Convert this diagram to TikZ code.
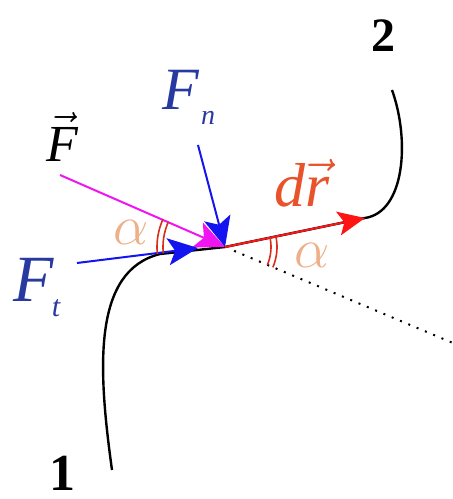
\RequirePackage{fix-cm}
\documentclass[tikz,border=0pt]{standalone}
\usepackage{fontspec}
\setmainfont{Liberation Serif}
\usetikzlibrary{arrows.meta,calc}

\definecolor{lblblue}{RGB}{40,58,160}
\definecolor{arrblue}{RGB}{20,20,240}
\definecolor{arrmag}{RGB}{240,20,240}
\definecolor{arrred}{RGB}{255,20,20}
\definecolor{drred}{RGB}{232,83,43}
\definecolor{alphaor}{RGB}{237,176,136}
\definecolor{arcred}{RGB}{214,48,28}

\begin{document}
\begin{tikzpicture}[x=1pt,y=1pt,
	force/.style={line width=2pt,-{Stealth[length=30pt,width=27pt,inset=7pt]}},
	anglearc/.style={arcred,line width=1.6pt},
	lbl/.style={inner sep=0pt,anchor=center}]
	\useasboundingbox (0,0) rectangle (453,499);
	
	% contact point and ends
	\coordinate (P) at (225,252);
	\coordinate (Ft0) at (77,236);
	\coordinate (Ft1) at (198,251);
	\coordinate (F0) at (60,324);
	\coordinate (Fn0) at (198,354);
	\coordinate (dr1) at (365,281);
	\coordinate (far) at (453,156);
	
	% trajectory 1 -> 2
	\draw[line width=2.4pt] (112,29) .. controls (98,130) and (92,228) .. (160,245) -- (P) -- (dr1) .. controls (405,287) and (410,359) .. (392,409);
	
	% continuation of F
	\draw[line width=2pt,dash pattern=on 2pt off 7pt] ($(P)!0.04!(far)$) -- (far);
	
	% forces
	\draw[force,arrmag] (F0) -- (P);
	\draw[force,arrblue] (Ft0) -- (Ft1);
	\draw[force,arrblue] (Fn0) -- (P);
	\draw[force,arrred,-{Stealth[length=27pt,width=24pt,inset=6pt]}] (P) -- (dr1);
	
	% angles
	\draw[anglearc] ([shift={(156:62)}]P) arc (156:186:62);
	\draw[anglearc] ([shift={(156:68)}]P) arc (156:186:68);
	\draw[anglearc] ([shift={(-23:46)}]P) arc (-23:11:46);
	\draw[anglearc] ([shift={(-23:52)}]P) arc (-23:11:52);
	
	% labels
	\node[lbl,font=\fontsize{52}{52}\selectfont] (lF) at (62,362) {$\vec{\mbox{\itshape F}}$};
	\node[lbl,font=\fontsize{60}{60}\selectfont\itshape,lblblue] (lFn) at (181,409) {F};
	\node[lbl,font=\fontsize{28}{28}\selectfont\itshape,lblblue] (lFnsub) at (208,381) {n};
	\node[lbl,font=\fontsize{66}{66}\selectfont\itshape,lblblue] (lFt) at (34,219) {F};
	\node[lbl,font=\fontsize{30}{30}\selectfont\itshape,lblblue] (lFtsub) at (56,191) {t};
	\node[lbl,font=\fontsize{62}{62}\selectfont,drred] (ldr) at (302,316) {\mbox{\itshape d}$\vec{\mbox{\itshape r}}$};
	\node[lbl,font=\fontsize{56}{56}\selectfont,alphaor] (la1) at (131,267) {$\alpha$};
	\node[lbl,font=\fontsize{56}{56}\selectfont,alphaor] (la2) at (312,244) {$\alpha$};
	\node[lbl,font=\fontsize{52}{52}\selectfont\bfseries] (l1) at (62,26) {1};
	\node[lbl,font=\fontsize{48}{48}\selectfont\bfseries] (l2) at (383,463) {2};
\end{tikzpicture}
\end{document}
